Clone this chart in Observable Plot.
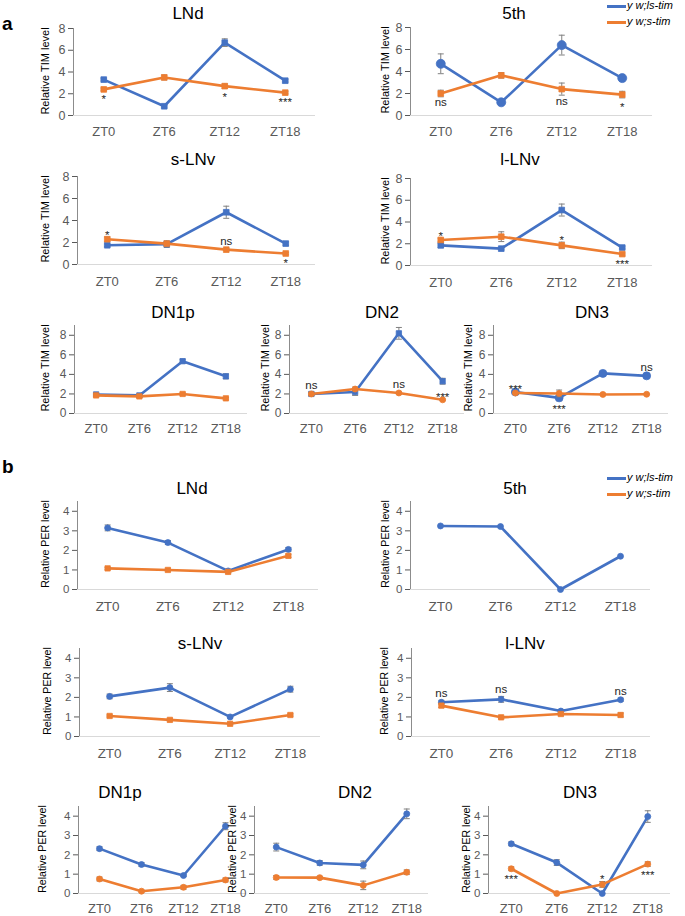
<!DOCTYPE html>
<html><head><meta charset="utf-8">
<script src="https://cdn.jsdelivr.net/npm/d3@7"></script>
<script src="https://cdn.jsdelivr.net/npm/@observablehq/plot@0.6"></script>
<style>
body{margin:0;background:#fff;}
#root{position:relative;width:685px;height:916px;overflow:hidden;font-family:"Liberation Sans",Arial,sans-serif;}
#root svg{position:absolute;left:0;top:0;}
.t{position:absolute;transform:translate(-50%,-50%);white-space:nowrap;color:#000;line-height:1;}
.yl{position:absolute;transform:translate(-50%,-50%) rotate(-90deg);white-space:nowrap;color:#000;font-size:11px;line-height:1;}
.lg{position:absolute;font-size:11px;font-style:italic;white-space:nowrap;line-height:1;}
.lgl{position:absolute;height:2.5px;width:19px;}
</style></head><body><div id="root"></div>
<script>
// ---------- data ----------
const zt = ["ZT0", "ZT6", "ZT12", "ZT18"];
const seriesNames = ["y w;ls-tim", "y w;s-tim"];

// Panel a: relative TIM level
const timLNdLs = [3.3, 0.85, 6.7, 3.2];
const timLNdLsErr = [0.12, 0.08, 0.35, 0.12];
const timLNdS = [2.4, 3.5, 2.7, 2.1];
const timLNdSErr = [0.12, 0.22, 0.2, 0.1];
const timLNdSig = ["*", "", "*", "***"];
const timLNdSigAt = ["s-", "", "s-", "s-"];

const tim5thLs = [4.7, 1.2, 6.4, 3.4];
const tim5thLsErr = [0.9, 0.1, 0.9, 0.3];
const tim5thS = [2.0, 3.65, 2.4, 1.9];
const tim5thSErr = [0.3, 0.25, 0.55, 0.3];
const tim5thSig = ["ns", "", "ns", "*"];
const tim5thSigAt = ["s-", "", "s-", "s-"];

const timSLNvLs = [1.75, 1.85, 4.75, 1.9];
const timSLNvLsErr = [0.12, 0.3, 0.55, 0.15];
const timSLNvS = [2.3, 1.9, 1.35, 1.0];
const timSLNvSErr = [0.2, 0.1, 0.08, 0.08];
const timSLNvSig = ["*", "", "ns", "*"];
const timSLNvSigAt = ["s+", "", "s+", "s-"];

const timLLNvLs = [1.85, 1.55, 5.1, 1.65];
const timLLNvLsErr = [0.2, 0.1, 0.55, 0.12];
const timLLNvS = [2.35, 2.65, 1.85, 1.05];
const timLLNvSErr = [0.15, 0.45, 0.3, 0.1];
const timLLNvSig = ["*", "", "*", "***"];
const timLLNvSigAt = ["s+", "", "s+", "s-"];

const timDN1pLs = [1.95, 1.85, 5.35, 3.8];
const timDN1pLsErr = [0.1, 0.1, 0.2, 0.25];
const timDN1pS = [1.85, 1.75, 2.0, 1.55];
const timDN1pSErr = [0.1, 0.1, 0.12, 0.08];
const timDN1pSig = ["", "", "", ""];
const timDN1pSigAt = ["", "", "", ""];

const timDN2Ls = [2.0, 2.2, 8.2, 3.3];
const timDN2LsErr = [0.2, 0.35, 0.6, 0.3];
const timDN2S = [2.0, 2.5, 2.1, 1.4];
const timDN2SErr = [0.15, 0.2, 0.12, 0.08];
const timDN2Sig = ["ns", "", "ns", "***"];
const timDN2SigAt = ["l+", "", "s+", "s+"];

const timDN3Ls = [2.2, 1.6, 4.1, 3.85];
const timDN3LsErr = [0.1, 0.3, 0.1, 0.2];
const timDN3S = [2.1, 2.05, 1.95, 1.97];
const timDN3SErr = [0.05, 0.35, 0.05, 0.05];
const timDN3Sig = ["***", "***", "", "ns"];
const timDN3SigAt = ["l+", "l-", "", "l+"];

// Panel b: relative PER level
const perLNdLs = [3.15, 2.4, 0.95, 2.05];
const perLNdLsErr = [0.15, 0.1, 0.05, 0.1];
const perLNdS = [1.08, 1.0, 0.9, 1.72];
const perLNdSErr = [0.05, 0.05, 0.05, 0.08];

const per5thLs = [3.25, 3.22, 0.0, 1.7];
const per5thLsErr = [0, 0, 0, 0];

const perSLNvLs = [2.05, 2.5, 1.0, 2.42];
const perSLNvLsErr = [0.12, 0.2, 0.05, 0.15];
const perSLNvS = [1.05, 0.85, 0.65, 1.1];
const perSLNvSErr = [0.05, 0.05, 0.05, 0.06];

const perLLNvLs = [1.75, 1.9, 1.3, 1.88];
const perLLNvLsErr = [0.1, 0.15, 0.06, 0.08];
const perLLNvS = [1.58, 0.98, 1.15, 1.1];
const perLLNvSErr = [0.1, 0.05, 0.08, 0.1];
const perLLNvSig = ["ns", "ns", "", "ns"];
const perLLNvSigAt = ["l+", "l+", "", "l+"];

const perDN1pLs = [2.32, 1.5, 0.93, 3.48];
const perDN1pLsErr = [0.1, 0.1, 0.05, 0.18];
const perDN1pS = [0.75, 0.12, 0.32, 0.7];
const perDN1pSErr = [0.1, 0.05, 0.1, 0.1];

const perDN2Ls = [2.4, 1.58, 1.48, 4.12];
const perDN2LsErr = [0.2, 0.12, 0.2, 0.25];
const perDN2S = [0.83, 0.82, 0.42, 1.1];
const perDN2SErr = [0.1, 0.07, 0.22, 0.12];

const perDN3Ls = [2.57, 1.6, 0.0, 3.98];
const perDN3LsErr = [0.1, 0.15, 0, 0.3];
const perDN3S = [1.28, 0.0, 0.47, 1.52];
const perDN3SErr = [0.1, 0, 0.15, 0.12];
const perDN3Sig = ["***", "", "*", "***"];
const perDN3SigAt = ["s-", "", "s+", "s-"];

const timTicks = [0, 2, 4, 6, 8];
const perTicks = [0, 1, 2, 3, 4];

const DATA = {
  timLNd: {ls: timLNdLs, lsE: timLNdLsErr, s: timLNdS, sE: timLNdSErr, sig: timLNdSig, at: timLNdSigAt},
  tim5th: {ls: tim5thLs, lsE: tim5thLsErr, s: tim5thS, sE: tim5thSErr, sig: tim5thSig, at: tim5thSigAt},
  timSLNv: {ls: timSLNvLs, lsE: timSLNvLsErr, s: timSLNvS, sE: timSLNvSErr, sig: timSLNvSig, at: timSLNvSigAt},
  timLLNv: {ls: timLLNvLs, lsE: timLLNvLsErr, s: timLLNvS, sE: timLLNvSErr, sig: timLLNvSig, at: timLLNvSigAt},
  timDN1p: {ls: timDN1pLs, lsE: timDN1pLsErr, s: timDN1pS, sE: timDN1pSErr, sig: timDN1pSig, at: timDN1pSigAt},
  timDN2: {ls: timDN2Ls, lsE: timDN2LsErr, s: timDN2S, sE: timDN2SErr, sig: timDN2Sig, at: timDN2SigAt},
  timDN3: {ls: timDN3Ls, lsE: timDN3LsErr, s: timDN3S, sE: timDN3SErr, sig: timDN3Sig, at: timDN3SigAt},
  perLNd: {ls: perLNdLs, lsE: perLNdLsErr, s: perLNdS, sE: perLNdSErr},
  per5th: {ls: per5thLs, lsE: per5thLsErr},
  perSLNv: {ls: perSLNvLs, lsE: perSLNvLsErr, s: perSLNvS, sE: perSLNvSErr},
  perLLNv: {ls: perLLNvLs, lsE: perLLNvLsErr, s: perLLNvS, sE: perLLNvSErr, sig: perLLNvSig, at: perLLNvSigAt},
  perDN1p: {ls: perDN1pLs, lsE: perDN1pLsErr, s: perDN1pS, sE: perDN1pSErr},
  perDN2: {ls: perDN2Ls, lsE: perDN2LsErr, s: perDN2S, sE: perDN2SErr},
  perDN3: {ls: perDN3Ls, lsE: perDN3LsErr, s: perDN3S, sE: perDN3SErr, sig: perDN3Sig, at: perDN3SigAt}
};

// ---------- layout ----------
const W = 685, H = 916;
const BLUE = "#4472C4", ORANGE = "#ED7D31", ERRC = "#808080";
const FONT = '"Liberation Sans", Arial, sans-serif';
const panels = [
  {id:"timLNd", title:"LNd", unit:"TIM", x0:73, x1:315, yT:28, y0:115, ymax:8, tx:188, ty:13, lx:45, xp:11, fy:12.5, fx:13, mk:["square","square"], r:[3.2,3.2]},
  {id:"tim5th", title:"5th", unit:"TIM", x0:410, x1:652, yT:27, y0:115, ymax:8, tx:514, ty:13, lx:385, xp:11, fy:12.5, fx:13, mk:["circle","square"], r:[4.5,3.2]},
  {id:"timSLNv", title:"s-LNv", unit:"TIM", x0:77, x1:315, yT:176, y0:264, ymax:8, tx:193, ty:159, lx:45, xp:12, fy:12.5, fx:13, mk:["square","square"], r:[3.2,3.2]},
  {id:"timLLNv", title:"l-LNv", unit:"TIM", x0:410, x1:652, yT:178, y0:265, ymax:8, tx:520, ty:159, lx:385, xp:12, fy:12.5, fx:13, mk:["square","square"], r:[3.2,3.2]},
  {id:"timDN1p", title:"DN1p", unit:"TIM", x0:74, x1:247, yT:325, y0:413, ymax:9, tx:173, ty:312, lx:45, xp:10, fy:12, fx:13, mk:["square","square"], r:[3,3]},
  {id:"timDN2", title:"DN2", unit:"TIM", x0:289, x1:464, yT:325, y0:413, ymax:9, tx:382, ty:312, lx:265, xp:10, fy:12, fx:13, mk:["square","circle"], r:[3,3]},
  {id:"timDN3", title:"DN3", unit:"TIM", x0:493, x1:668, yT:325, y0:413, ymax:9, tx:592, ty:312, lx:468, xp:10, fy:12, fx:13, mk:["circle","circle"], r:[4,3]},
  {id:"perLNd", title:"LNd", unit:"PER", x0:77, x1:318, yT:501, y0:589, ymax:4.5, tx:192, ty:488, lx:45, xp:12, fy:11.5, fx:13.5, mk:["circle","square"], r:[3,3]},
  {id:"per5th", title:"5th", unit:"PER", x0:410, x1:650, yT:501, y0:589, ymax:4.5, tx:515, ty:488, lx:385, xp:12, fy:11.5, fx:13.5, mk:["circle","square"], r:[3,3]},
  {id:"perSLNv", title:"s-LNv", unit:"PER", x0:79, x1:320, yT:648, y0:736, ymax:4.5, tx:200, ty:643, lx:47, xp:12, fy:11.5, fx:13.5, mk:["circle","square"], r:[3,3]},
  {id:"perLLNv", title:"l-LNv", unit:"PER", x0:411, x1:650, yT:648, y0:736, ymax:4.5, tx:525, ty:643, lx:384, xp:12, fy:11.5, fx:13.5, mk:["circle","square"], r:[3,3]},
  {id:"perDN1p", title:"DN1p", unit:"PER", x0:78, x1:246, yT:806, y0:893, ymax:4.5, tx:120, ty:792, lx:42, xp:10, fy:11.5, fx:13, mk:["circle","circle"], r:[3,3]},
  {id:"perDN2", title:"DN2", unit:"PER", x0:254, x1:428, yT:806, y0:893, ymax:4.5, tx:355, ty:792, lx:232, xp:10, fy:11.5, fx:13, mk:["circle","circle"], r:[3,3]},
  {id:"perDN3", title:"DN3", unit:"PER", x0:488, x1:670, yT:806, y0:893, ymax:4.5, tx:580, ty:792, lx:466, xp:10, fy:11.5, fx:13, mk:["circle","circle"], r:[3,3]}
];

const capSymbol = {draw(ctx, size) { const w = Math.sqrt(size / Math.PI); ctx.moveTo(-w, 0); ctx.lineTo(w, 0); }};

const root = document.getElementById("root");

function drawPanel(p) {
  const d = DATA[p.id];
  const marks = [
    Plot.ruleY([0], {stroke: "#d9d9d9", strokeWidth: 1}),
    Plot.ruleX([-0.5], {stroke: "#8c8c8c", strokeWidth: 1}),
    Plot.axisY({ticks: p.unit === "TIM" ? timTicks : perTicks, tickFormat: d3.format("d"), tickSize: 5, tickPadding: 3, fontSize: p.fy, color: "#595959", label: null, fontFamily: FONT}),
    Plot.axisX({ticks: [0, 1, 2, 3], tickFormat: i => zt[i], tickSize: 0, tickPadding: p.xp, fontSize: p.fx, color: "#595959", label: null, fontFamily: FONT})
  ];
  const defs = [["ls", BLUE, p.mk[0], p.r[0]], ["s", ORANGE, p.mk[1], p.r[1]]];
  for (const [k, color, sym, r] of defs) {
    if (!d[k]) continue;
    const rows = zt.map((z, i) => ({i, v: d[k][i], e: d[k + "E"][i]}));
    const eb = rows.filter(r => r.e > 0);
    marks.push(
      Plot.line(rows, {x: "i", y: "v", stroke: color, strokeWidth: 2.6, strokeLinejoin: "round", strokeLinecap: "round"}),
      Plot.ruleX(eb, {x: "i", y1: r => r.v - r.e, y2: r => r.v + r.e, stroke: ERRC, strokeWidth: 1}),
      Plot.dot(eb, {x: "i", y: r => r.v + r.e, symbol: capSymbol, r: 3, stroke: ERRC, fill: "none", strokeWidth: 1}),
      Plot.dot(eb, {x: "i", y: r => r.v - r.e, symbol: capSymbol, r: 3, stroke: ERRC, fill: "none", strokeWidth: 1}),
      Plot.dot(rows, {x: "i", y: "v", symbol: sym, r, fill: color, stroke: color, strokeWidth: 0.8})
    );
  }
  if (d.sig) {
    const anns = [];
    d.sig.forEach((lab, i) => {
      if (!lab) return;
      const k = d.at[i][0] === "l" ? "ls" : "s";
      const up = d.at[i][1] === "+";
      const v = d[k][i], e = d[k + "E"][i];
      anns.push({i, lab, y: up ? v + e : v - e, up, star: lab.includes("*")});
    });
    const groups = [[true, true, -2], [true, false, 9], [false, true, -7], [false, false, 6]];
    for (const [star, up, dy] of groups) {
      const g = anns.filter(a => a.star === star && a.up === up);
      if (g.length) marks.push(Plot.text(g, {x: "i", y: "y", text: "lab", dy, fontSize: 11.5, fill: "#262626", fontFamily: FONT}));
    }
  }
  const svg = Plot.plot({
    width: W, height: H,
    marginLeft: p.x0, marginRight: W - p.x1, marginTop: p.yT, marginBottom: H - p.y0,
    x: {domain: [-0.5, 3.5]},
    y: {domain: [0, p.ymax]},
    style: {background: "none", overflow: "visible", fontFamily: FONT},
    marks
  });
  root.appendChild(svg);

  const t = document.createElement("div");
  t.className = "t"; t.textContent = p.title;
  t.style.left = p.tx + "px"; t.style.top = p.ty + "px"; t.style.fontSize = "17px";
  root.appendChild(t);

  const yl = document.createElement("div");
  yl.className = "yl"; yl.textContent = "Relative " + p.unit + " level";
  yl.style.left = p.lx + "px"; yl.style.top = ((p.yT + p.y0) / 2 - 1) + "px";
  yl.style.fontSize = p.unit === "TIM" ? "11px" : "10.6px";
  root.appendChild(yl);
}

panels.forEach(drawPanel);

// panel letters
for (const [txt, x, y] of [["a", 2, 14], ["b", 2, 457]]) {
  const e = document.createElement("div");
  e.style.cssText = `position:absolute;left:${x}px;top:${y}px;font-size:19px;font-weight:bold;line-height:1;`;
  e.textContent = txt; root.appendChild(e);
}
// legends
for (const [ly] of [[0], [472]]) {
  [[BLUE, 6], [ORANGE, 22]].forEach(([c, off], j) => {
    const l = document.createElement("div");
    l.className = "lgl"; l.style.background = c;
    l.style.left = "607px"; l.style.top = (ly + off - 1) + "px";
    root.appendChild(l);
    const tx = document.createElement("div");
    tx.className = "lg"; tx.textContent = seriesNames[j];
    tx.style.left = "627px"; tx.style.top = (ly + off - 6) + "px";
    root.appendChild(tx);
  });
}
</script></body></html>
